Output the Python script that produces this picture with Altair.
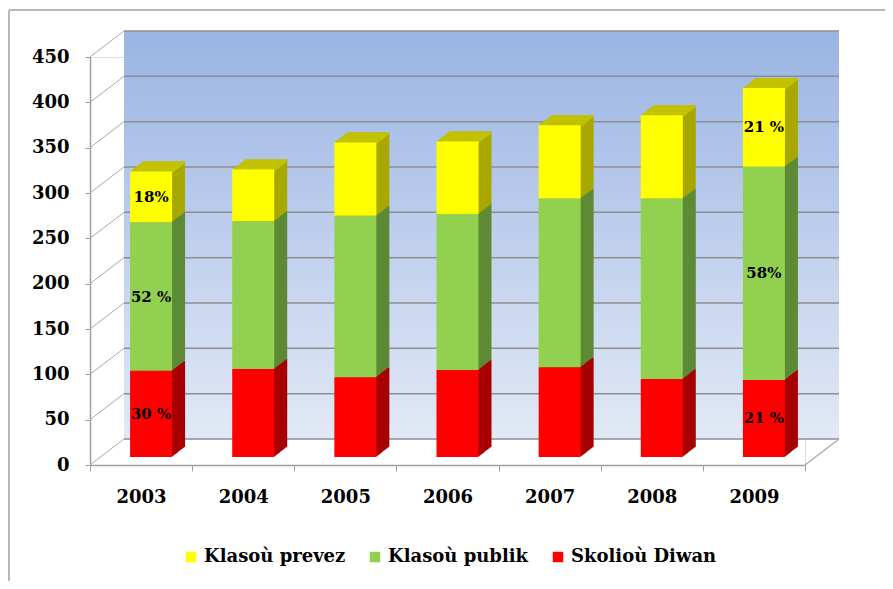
import altair as alt
import pandas as pd

# ---------------- data ----------------
years = ["2003", "2004", "2005", "2006", "2007", "2008", "2009"]
series = ["Klasoù prevez", "Klasoù publik", "Skolioù Diwan"]
skoliou_diwan = [95, 97, 88, 96, 99, 86, 85]
klasou_publik = [164, 163, 178, 172, 186, 199, 235]
klasou_prevez = [56, 57, 81, 80, 81, 92, 87]

y_ticks = [0, 50, 100, 150, 200, 250, 300, 350, 400, 450]

label_years = ["2003", "2003", "2003", "2009", "2009", "2009"]
label_series = ["Klasoù prevez", "Klasoù publik", "Skolioù Diwan",
                "Klasoù prevez", "Klasoù publik", "Skolioù Diwan"]
label_texts = ["18%", "52 %", "30 %", "21 %", "58%", "21 %"]

# ---------------- styles ----------------
front_colors = ["#FFFF00", "#92D050", "#FF0000"]
side_colors = ["#A8A800", "#5E8A35", "#A80000"]
top_color = "#C8C800"
grid_color = "#8E8E8E"
FONT = "DejaVu Serif"

W, H = 715, 408
BAR_W = 42
FRONT_DX, FRONT_DY = 10, -8
DEPTH_X, DEPTH_Y = 13, 10
N_SLICES = 13
WALL_DX, WALL_DY = 34, -26

# ---------------- tables ----------------
values_by_series = {
    "Skolioù Diwan": skoliou_diwan,
    "Klasoù publik": klasou_publik,
    "Klasoù prevez": klasou_prevez,
}
side_by_series = dict(zip(series, side_colors))
stack_order = ["Skolioù Diwan", "Klasoù publik", "Klasoù prevez"]

rows = []
for i, yr in enumerate(years):
    base = 0
    for s in stack_order:
        v = values_by_series[s][i]
        rows.append({"year": yr, "series": s, "v0": base, "v1": base + v,
                     "mid": base + v / 2, "side": side_by_series[s]})
        base += v
seg = pd.DataFrame(rows)
tot = seg.groupby("year", as_index=False)["v1"].max().rename(columns={"v1": "total"})

lab = pd.DataFrame({"year": label_years, "series": label_series, "text": label_texts})
lab = lab.merge(seg[["year", "series", "mid"]], on=["year", "series"])

ticks_df = pd.DataFrame({"tick": y_ticks})
wall_df = pd.DataFrame({"lo": [y_ticks[0]], "hi": [y_ticks[-1]]})

yscale = alt.Scale(domain=[y_ticks[0], y_ticks[-1]], nice=False, zero=True)
xscale = alt.Scale(type="band", domain=years, paddingInner=0, paddingOuter=0)

x_axis = alt.Axis(title=None, labelFont=FONT, labelFontWeight="bold", labelFontSize=18,
                  labelColor="black", labelPadding=17, labelAngle=0,
                  tickBand="extent", tickSize=6, tickColor="#A0A0A0",
                  domainColor="#A0A0A0", domainWidth=1.5, grid=False)
y_axis = alt.Axis(title=None, values=y_ticks, labelFont=FONT, labelFontWeight="bold",
                  labelFontSize=18, labelColor="black", labelPadding=16,
                  tickSize=5, tickColor="#A0A0A0", domainColor="#A0A0A0",
                  domainWidth=1.5, grid=False)

def X():
    return alt.X("year:N", scale=xscale, axis=x_axis)

def Y(field):
    return alt.Y(field, scale=yscale, axis=y_axis)

# back wall
wall = alt.Chart(wall_df).mark_rect(
    fill=alt.LinearGradient(gradient="linear",
                            stops=[alt.GradientStop(color="#9AB4E3", offset=0),
                                   alt.GradientStop(color="#E2E9F6", offset=1)],
                            x1=0, x2=0, y1=0, y2=1),
    yOffset=WALL_DY, y2Offset=WALL_DY,
).encode(
    x=alt.value(WALL_DX), x2=alt.value(W + WALL_DX),
    y=Y("hi:Q"), y2="lo:Q",
)

grid = alt.Chart(ticks_df).mark_rule(color=grid_color, strokeWidth=1.5, yOffset=WALL_DY).encode(
    x=alt.value(WALL_DX), x2=alt.value(W + WALL_DX),
    y=Y("tick:Q"),
)

diag = alt.Chart(ticks_df).mark_rule(color="#A8A8A8", strokeWidth=1, y2Offset=WALL_DY).encode(
    x=alt.value(0), x2=alt.value(WALL_DX),
    y=Y("tick:Q"), y2="tick:Q",
)

floor_edge = alt.Chart(ticks_df.head(1)).mark_rule(color="#A8A8A8", strokeWidth=1.2, y2Offset=WALL_DY).encode(
    x=alt.value(W), x2=alt.value(W + WALL_DX),
    y=Y("tick:Q"), y2="tick:Q",
)

layers = [wall, grid, diag, floor_edge]

# extruded depth of bars (drawn back to front)
for k in range(N_SLICES, 0, -1):
    ox = FRONT_DX + k * DEPTH_X / N_SLICES
    oy = FRONT_DY - k * DEPTH_Y / N_SLICES
    side = alt.Chart(seg).mark_bar(width=BAR_W, xOffset=ox, yOffset=oy, y2Offset=oy).encode(
        x=X(),
        y=Y("v0:Q"), y2="v1:Q",
        color=alt.Color("side:N", scale=None, legend=None),
    )
    top = alt.Chart(tot).mark_bar(width=BAR_W, xOffset=ox, yOffset=oy, y2Offset=oy + 2,
                                  color=top_color).encode(
        x=X(),
        y=Y("total:Q"), y2="total:Q",
    )
    layers += [side, top]

front = alt.Chart(seg).mark_bar(width=BAR_W, xOffset=FRONT_DX, yOffset=FRONT_DY,
                                y2Offset=FRONT_DY).encode(
    x=X(),
    y=Y("v0:Q"), y2="v1:Q",
    fill=alt.Fill("series:N", scale=alt.Scale(domain=series, range=front_colors),
                  legend=alt.Legend(title=None, orient="none", legendX=92, legendY=491,
                                    direction="horizontal", symbolType="square",
                                    symbolSize=110, symbolStrokeWidth=0,
                                    labelFont=FONT, labelFontWeight="bold",
                                    labelFontSize=18, labelColor="black",
                                    columnPadding=20, labelOffset=4, padding=0)),
)

labels = alt.Chart(lab).mark_text(font=FONT, fontWeight="bold", fontSize=15, color="black",
                                  xOffset=FRONT_DX, yOffset=FRONT_DY).encode(
    x=X(),
    y=Y("mid:Q"),
    text="text:N",
)

frame_df = pd.DataFrame({"k": [0]})
frame_left = alt.Chart(frame_df).mark_rule(color="#A0A0A0", strokeWidth=1.5).encode(
    x=alt.value(-81), y=alt.value(-47), y2=alt.value(H + 130))
frame_top = alt.Chart(frame_df).mark_rule(color="#A0A0A0", strokeWidth=1.5).encode(
    x=alt.value(-81), x2=alt.value(W + 90), y=alt.value(-47))

layers += [front, labels, frame_left, frame_top]

chart = alt.layer(*layers).resolve_scale(color="independent", fill="independent").properties(
    width=W, height=H,
    autosize=alt.AutoSizeParams(type="none"),
    padding={"left": 82, "top": 49, "right": 80, "bottom": 116},
).configure_view(stroke=None).configure(background="white")

chart.save("out.html", embed_options={"renderer": "svg", "actions": False})
